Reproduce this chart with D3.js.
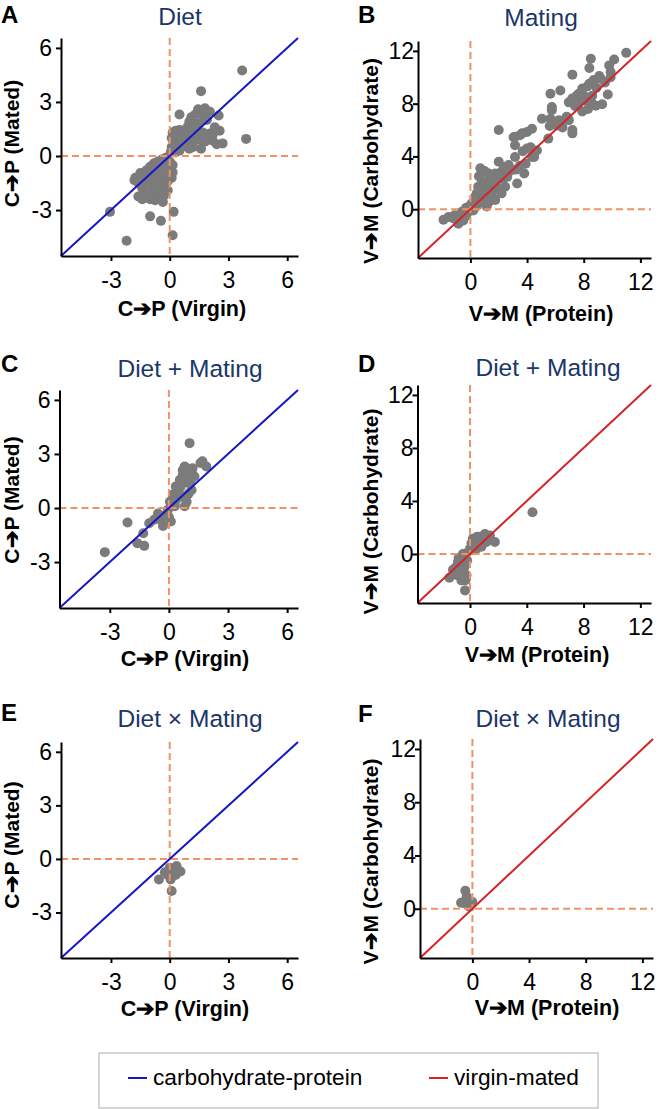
<!doctype html>
<html>
<head>
<meta charset="utf-8">
<style>
  body { margin: 0; background: #fff; }
  svg { display: block; }
  text { font-family: "Liberation Sans", Arial, Helvetica, sans-serif; fill: #000; }
  .axis path, .axis line { stroke: #000; stroke-width: 2; }
  .axis text { font-size: 23px; }
  .title { font-size: 24.5px; fill: #1b3668; }
  .alabel { font-size: 21.5px; font-weight: bold; }
  .ylabel { font-size: 21px; font-weight: bold; }
  .letter { font-size: 24px; font-weight: bold; }
  .legend text { font-size: 22.7px; }
</style>
<title>C-P and V-M scatter panels</title>
</head>
<body>
<svg id="fig" width="668" height="1109"></svg>
<script src="https://cdnjs.cloudflare.com/ajax/libs/d3/7.8.5/d3.min.js"></script>
<script>
// tick labels
var cpTicks = [-3, 0, 3, 6];
var vmTicks = [0, 4, 8, 12];

// panel titles / axis labels
var titles = ["Diet", "Mating", "Diet + Mating", "Diet + Mating", "Diet \u00d7 Mating", "Diet \u00d7 Mating"];
var letters = ["A", "B", "C", "D", "E", "F"];
var legendLabels = ["carbohydrate-protein", "virgin-mated"];

// A: diet, C->P virgin vs mated
var dietCP = [
  [3.7,4.75],[1.6,3.6],[3.9,0.95],[0.5,2.3],[-3.05,-3.1],[-2.2,-4.7],[-1.0,-3.35],[-0.45,-3.6],[0.2,-3.1],[0.15,-4.4],
  [-0.35,-2.55],[-0.75,-2.45],[-1.6,-2.25],[-1.75,-1.2],
  [1.45,2.6],[1.8,2.65],[2.05,2.45],[2.5,2.25],[1.1,2.15],[1.0,1.9],[2.55,1.4],[2.05,1.25],[2.2,0.85],[2.7,0.7],
  [2.4,0.65],[1.6,0.4],[1.3,2.3],[1.2,1.6],[1.5,1.8],[1.7,2.2],[1.9,2.0],[1.4,1.2],[1.7,1.3],[1.9,1.1],[2.2,1.2],
  [1.8,0.8],[1.5,0.9],[1.2,0.9],[1.0,0.7],[0.8,1.0],[0.6,1.2],[0.4,1.3],[0.3,1.0],[0.2,0.8],[0.1,0.5],[0.15,1.3],
  [0.3,1.4],[0.5,1.45],[0.7,1.4],[0.9,1.3],[1.1,1.2],[0.4,0.6],[0.6,0.5],[0.8,0.6],[0.2,0.3],[0.3,0.2],[0.5,0.3],
  [1.0,0.4],[1.2,0.5],[0.7,0.8],[0.9,1.6],[1.1,1.5],[1.3,1.8],[1.6,2.4],[2.3,1.6],[0.05,0.2],[0.1,1.0],
  [-1.8,-1.35],[-1.5,-0.95],[-1.3,-1.4],[-1.2,-0.8],[-1.0,-0.6],[-0.8,-0.4],[-0.6,-0.3],[-0.4,-0.2],[-0.2,-0.1],
  [-1.4,-1.8],[-1.2,-2.0],[-1.0,-1.5],[-0.8,-1.0],[-0.6,-0.8],[-0.4,-0.6],[-0.2,-0.5],[0.0,-0.3],[0.15,-0.5],
  [0.15,-0.9],[0.1,-1.2],[-0.1,-1.4],[-0.3,-1.2],[-0.5,-1.3],[-0.7,-1.5],[-0.9,-1.9],[-1.1,-2.3],[-1.3,-2.2],
  [-0.8,-2.2],[-0.6,-2.0],[-0.4,-1.8],[-0.2,-1.7],[-0.1,-1.9],[-0.3,-2.2],[-0.5,-2.4],[-0.7,-1.7],[-0.9,-1.2],
  [-1.1,-1.0],[-1.6,-1.5],[-0.3,-0.9],[-0.5,-0.5],[-0.2,-2.0],[0.0,-1.0],[0.05,-0.6],[-1.4,-2.4],[-1.0,-2.4]
];

// B: mating, V->M protein vs carbohydrate
var matingVM = [
  [11.0,11.85],[10.15,11.35],[9.8,10.9],[9.9,10.4],[8.5,11.4],[8.4,10.7],[9.1,10.1],[8.7,9.8],[8.4,9.5],[7.9,9.15],
  [7.2,10.2],[8.25,9.3],[7.65,8.75],[7.2,8.4],[6.95,8.1],[7.65,8.1],[8.1,8.25],[8.6,8.0],[9.3,7.95],[8.85,7.85],
  [7.9,7.4],[6.35,9.0],[5.65,8.75],[5.75,7.75],[5.75,7.5],[5.05,6.85],[5.65,6.85],[6.25,6.75],[6.1,6.35],[6.95,6.75],
  [7.2,6.0],[7.2,5.75],[4.35,6.1],[4.0,5.85],[3.5,5.6],[3.05,5.45],[2.0,6.0],
  [8.0,8.6],[8.9,9.2],[9.5,9.6],[9.2,9.9],[7.5,8.6],[8.6,8.6],[9.7,8.7],[9.9,10.0],[7.4,7.8],[8.3,7.6],[6.8,7.0],[6.5,6.2],
  [3.15,5.5],[3.15,4.85],[3.65,5.75],[4.7,4.45],[4.25,4.7],[4.35,3.95],[3.9,3.45],[3.15,3.95],[2.7,3.35],[2.0,3.6],
  [0.7,3.1],[1.3,2.7],[1.75,2.7],[2.2,2.85],[2.6,2.45],[3.3,1.95],[0.8,2.2],[0.55,1.7],[1.05,1.45],[1.5,1.55],
  [2.0,1.45],[2.45,1.7],[2.2,1.2],[1.75,0.7],[1.3,0.55],[0.8,0.55],[0.45,1.2],[0.35,0.7],[0.1,0.45],[0.2,-0.1],
  [-0.15,-0.2],[-0.6,-0.2],[-1.1,-0.45],[-1.55,-0.6],[-1.9,-0.8],[-0.85,-1.1],[-0.5,-0.85],[1.05,0.8],[1.5,1.05],
  [0.45,0.25],[1.15,0.2],[1.0,2.0],[1.3,2.1],[1.8,2.2],[0.6,1.0],[0.9,1.1],[0.3,0.9],[0.0,0.3],[-0.3,0.1],[0.5,0.5],
  [1.2,1.0],[2.3,2.3],[1.8,1.8],[0.6,2.5],[1.0,2.9],[2.4,3.2],[2.8,2.9],[3.5,3.3],[3.2,3.0],[3.7,4.4],[4.0,4.6],
  [5.5,5.35],[5.6,6.3],[-0.8,-0.5],[-0.3,-0.5],[0.3,0.1],[-0.6,-0.8],[-1.2,-0.7],[4.5,3.95],[3.8,2.7]
];

// C: diet + mating, C->P
var addCP = [
  [1.05,3.6],[1.7,2.6],[1.9,2.3],[0.8,2.3],[0.7,2.1],[1.15,2.0],[1.3,1.75],[0.55,1.55],[0.95,1.4],[0.35,1.2],
  [1.15,1.0],[0.2,0.75],[0.65,0.65],[0.9,0.35],[0.8,0.1],[0.05,0.35],[0.3,0.1],[-0.05,-0.1],[-0.55,-0.3],
  [-0.75,-0.65],[-0.4,-0.65],[0.1,-0.75],[-1.0,-0.85],[-2.1,-0.8],[-1.3,-1.4],[-1.6,-1.95],[-1.25,-2.1],[-3.25,-2.45],
  [-0.3,-1.0],[0.5,0.9],[0.6,1.2],[0.9,1.7],[1.1,1.5],[0.7,1.8],[0.4,0.5],[1.0,0.8],[0.3,0.3],[1.2,2.2],[0.9,2.2],
  [-0.2,-0.4],[0.0,-0.5],[-0.5,-0.6],[1.6,2.5]
];

// D: diet + mating, V->M
var addVM = [
  [4.4,3.15],[1.75,0.9],[1.4,1.4],[1.05,1.5],[0.7,1.3],[0.2,1.15],[0.45,0.9],[1.15,0.9],[0.8,0.55],[0.45,0.4],
  [0.1,0.8],[0.15,0.3],[-0.25,0.05],[-0.6,-0.25],[-0.85,-0.6],[-0.4,-0.75],[-1.0,-1.0],[-0.5,-1.25],[-1.1,-1.5],
  [-1.45,-1.8],[-0.6,-1.75],[-0.25,-1.6],[-0.35,-2.75],[-0.35,-2.0],[-0.8,-0.3],[-0.5,0.0],[-0.7,-1.3],[-0.9,-1.6],
  [-0.4,-1.0],[-0.2,-0.5],[0.0,0.4],[0.3,0.8],[0.6,0.9],[0.9,1.2],[1.2,1.1],[0.5,1.3],[-1.2,-1.2],[-0.6,-2.0],[-0.3,-1.9]
];

// E: diet x mating, C->P
var intCP = [
  [-0.55,-1.15],[-0.25,-0.75],[0.05,-1.15],[0.1,-1.8],[0.35,-0.4],[0.55,-0.7],[0.2,-0.65],[0.0,-0.5],[0.3,-0.9],[-0.1,-0.9]
];

// F: diet x mating, V->M
var intVM = [
  [-0.5,1.35],[-0.4,0.9],[-0.8,0.45],[-0.45,0.35],[0.0,0.5],[-0.2,0.15],[-0.6,0.5]
];

var kinds = {
  cp: { domain: [-5.55, 6.55], ticks: cpTicks, xlab: "C\u2794P (Virgin)", ylab: "C\u2794P (Mated)", line: "#1616c4", ypad: 4 },
  vm: { domain: [-3.7, 12.75], ticks: vmTicks, xlab: "V\u2794M (Protein)", ylab: "V\u2794M (Carbohydrate)", line: "#d42424", ypad: -1 }
};

// layout: plot box [left, top, right, bottom], title, axis label anchors
var panels = [
  { pts: dietCP,   kind: "cp", box: [61, 38, 298, 256],    title: [180, 25],  xlab: [182, 316],  ylab: [19, 143.5],  letter: [1, 23] },
  { pts: matingVM, kind: "vm", box: [418, 41, 651, 258],   title: [541, 26],  xlab: [541, 321],  ylab: [378, 161],   letter: [358, 23] },
  { pts: addCP,    kind: "cp", box: [59.5, 390, 298, 608], title: [190, 377], xlab: [185, 666],  ylab: [19, 500],    letter: [1, 372] },
  { pts: addVM,    kind: "vm", box: [417.5, 385, 651, 603],title: [548, 376], xlab: [537, 662],  ylab: [378, 511.5], letter: [358, 372] },
  { pts: intCP,    kind: "cp", box: [61, 742, 298, 958],   title: [190, 727], xlab: [185, 1016], ylab: [19, 845],    letter: [1, 721] },
  { pts: intVM,    kind: "vm", box: [420, 739, 653, 958],  title: [548, 727], xlab: [547, 1015], ylab: [378, 861.5], letter: [358, 722] }
];

var svg = d3.select("#fig");

panels.forEach(function(p, i) {
  var k = kinds[p.kind];
  var x = d3.scaleLinear().domain(k.domain).range([p.box[0], p.box[2]]);
  var y = d3.scaleLinear().domain(k.domain).range([p.box[3], p.box[1]]);
  var g = svg.append("g");

  g.selectAll("circle")
    .data(p.pts)
    .enter().append("circle")
    .attr("cx", function(d) { return x(d[0]); })
    .attr("cy", function(d) { return y(d[1]); })
    .attr("r", 5)
    .attr("fill", "#7b7b7b");

  // zero reference lines
  g.append("line")
    .attr("x1", x(0)).attr("x2", x(0))
    .attr("y1", y.range()[1]).attr("y2", y.range()[0])
    .attr("stroke", "#ef9266").attr("stroke-width", 2).attr("stroke-dasharray", "7,4");
  g.append("line")
    .attr("x1", x.range()[0]).attr("x2", x.range()[1])
    .attr("y1", y(0)).attr("y2", y(0))
    .attr("stroke", "#ef9266").attr("stroke-width", 2).attr("stroke-dasharray", "7,4");

  // identity line
  g.append("line")
    .attr("x1", x(k.domain[0])).attr("y1", y(k.domain[0]))
    .attr("x2", x(k.domain[1])).attr("y2", y(k.domain[1]))
    .attr("stroke", k.line).attr("stroke-width", 2);

  g.append("g")
    .attr("class", "axis")
    .attr("transform", "translate(0," + p.box[3] + ")")
    .call(d3.axisBottom(x).tickValues(k.ticks).tickSize(5).tickSizeOuter(0).tickPadding(11)
      .tickFormat(function(d) { return String(d); }));

  g.append("g")
    .attr("class", "axis")
    .attr("transform", "translate(" + p.box[0] + ",0)")
    .call(d3.axisLeft(y).tickValues(k.ticks).tickSize(5).tickSizeOuter(0).tickPadding(k.ypad)
      .tickFormat(function(d) { return String(d); }));

  g.selectAll(".axis text").attr("fill", "#000");

  g.append("text")
    .attr("class", "title")
    .attr("x", p.title[0]).attr("y", p.title[1])
    .attr("text-anchor", "middle")
    .text(titles[i]);

  g.append("text")
    .attr("class", "alabel")
    .attr("x", p.xlab[0]).attr("y", p.xlab[1])
    .attr("text-anchor", "middle")
    .text(k.xlab);

  g.append("text")
    .attr("class", "ylabel")
    .attr("transform", "translate(" + p.ylab[0] + "," + p.ylab[1] + ") rotate(-90)")
    .attr("text-anchor", "middle")
    .text(k.ylab);

  g.append("text")
    .attr("class", "letter")
    .attr("x", p.letter[0]).attr("y", p.letter[1])
    .text(letters[i]);
});

// legend
var legend = svg.append("g").attr("class", "legend");
legend.append("rect")
  .attr("x", 99).attr("y", 1053).attr("width", 499).attr("height", 55)
  .attr("fill", "#fff").attr("stroke", "#c8c8c8").attr("stroke-width", 1.5);

var legendItems = [
  { label: legendLabels[0], color: kinds.cp.line, x: 128 },
  { label: legendLabels[1], color: kinds.vm.line, x: 429 }
];
legendItems.forEach(function(it) {
  legend.append("line")
    .attr("x1", it.x).attr("x2", it.x + 19)
    .attr("y1", 1078).attr("y2", 1078)
    .attr("stroke", it.color).attr("stroke-width", 2);
  legend.append("text")
    .attr("x", it.x + 25).attr("y", 1085)
    .text(it.label);
});
</script>
</body>
</html>
